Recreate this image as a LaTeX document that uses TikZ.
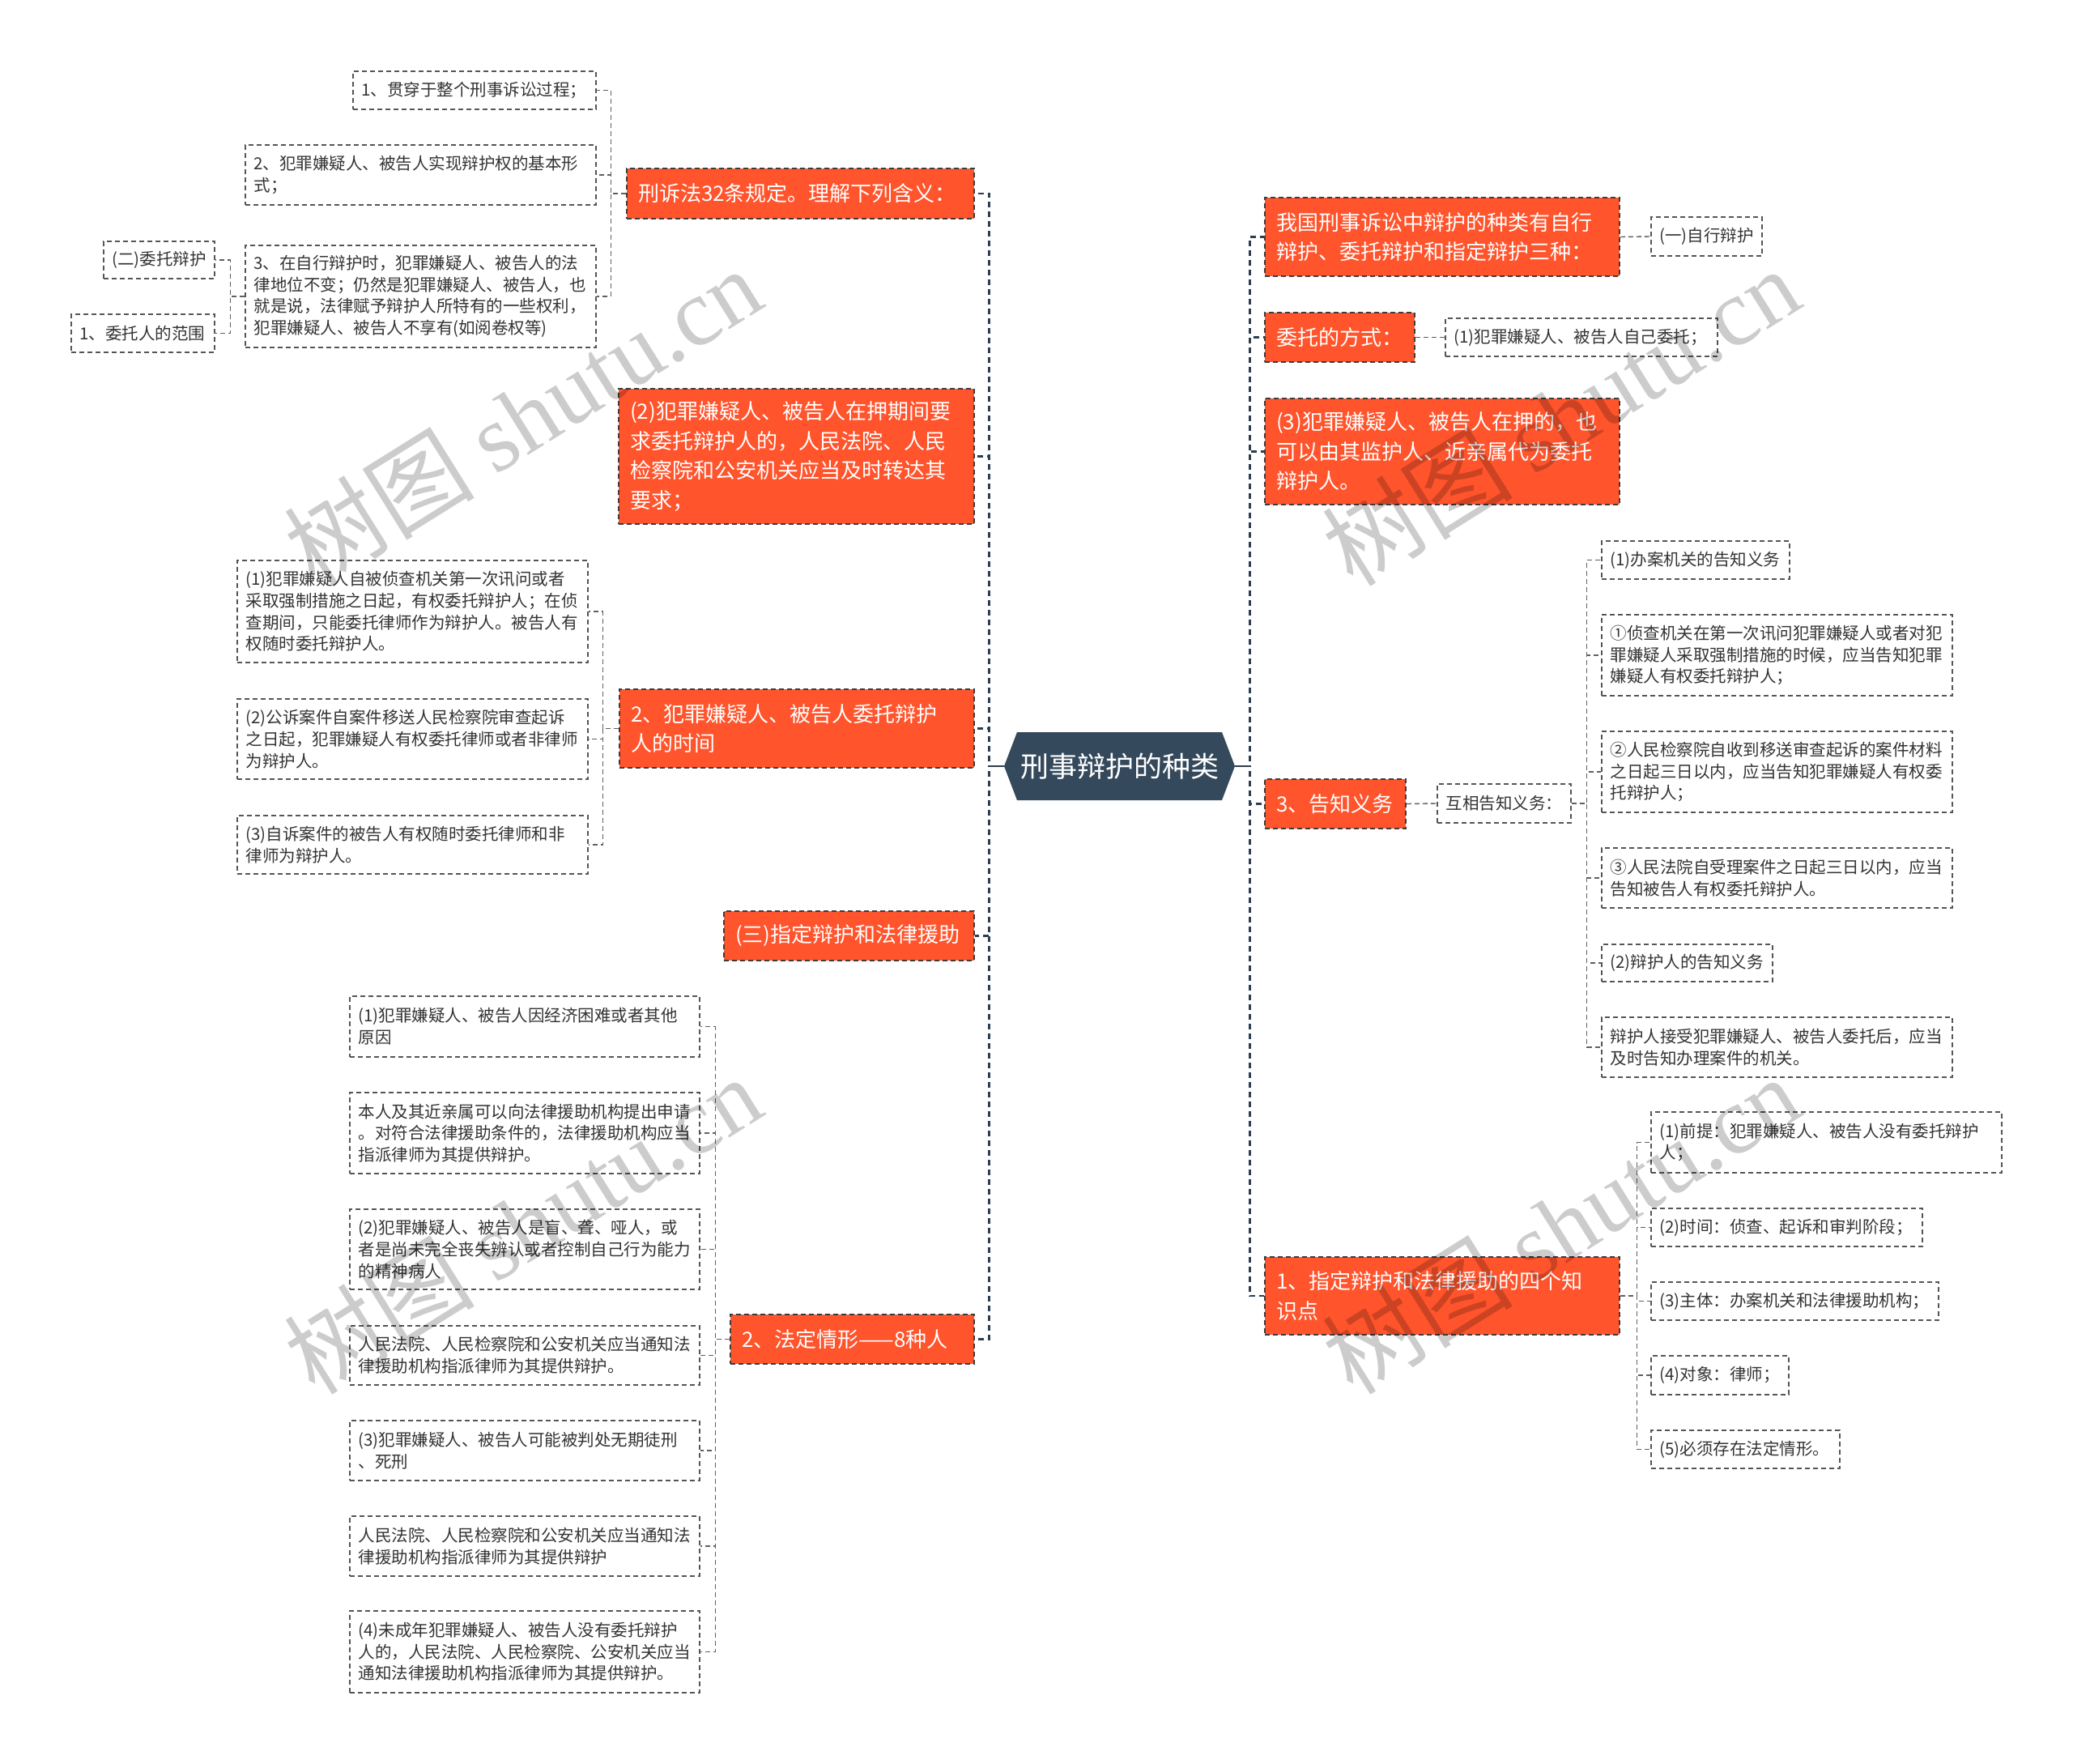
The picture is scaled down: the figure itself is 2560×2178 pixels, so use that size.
\documentclass[tikz,border=0pt]{standalone}
\usepackage{fontspec}
\setmainfont{Noto Sans CJK SC}
\newfontfamily\wmlatin{Liberation Serif}
\definecolor{orangefill}{RGB}{255,84,44}
\definecolor{rootfill}{RGB}{53,73,92}
\definecolor{mainline}{RGB}{44,62,80}
\definecolor{subline}{RGB}{95,95,95}
\definecolor{boxline}{RGB}{85,85,85}
\definecolor{topicline}{RGB}{60,60,60}
\definecolor{txt}{RGB}{51,51,51}
\tikzset{
 leafbox/.style={draw=boxline, line width=1.4pt, dash pattern=on 6pt off 4pt, fill=white, inner ysep=0pt, align=left, text=txt, font=\fontsize{20.5}{26.7}\selectfont},
 topicbox/.style={draw=topicline, line width=1.5pt, dash pattern=on 6pt off 4pt, fill=orangefill, inner ysep=0pt, align=left, text=white, font=\fontsize{26}{36.5}\selectfont},
 rootnode/.style={minimum width=285pt, minimum height=84pt, inner sep=0pt, text=white, font=\fontsize{35}{40}\selectfont},
 mainlink/.style={draw=mainline, line width=2.8pt, dash pattern=on 7pt off 5pt},
 rootstub/.style={draw=mainline, line width=2.8pt},
 sublink/.style={draw=subline, line width=1.4pt, dash pattern=on 6pt off 4pt},
 watermark/.style={text=black, opacity=0.2, rotate=32, font=\fontsize{118}{118}\selectfont, inner sep=0pt},
}
\newcommand\mkbox[8]{%
 \pgfmathsetmacro\bw{#6-#4}%
 \pgfmathsetmacro\bh{#7-#5}%
 \pgfmathsetmacro\tw{#6-#4-2*#3}%
 \pgfmathsetmacro\cx{(#4+#6)/2}%
 \pgfmathsetmacro\cy{(#5+#7)/2}%
 \node[#2, inner xsep=#3pt, minimum width=\bw pt, minimum height=\bh pt, text width=\tw pt] (#1) at (\cx,\cy) {#8};}
\newcommand\leaf[6]{\mkbox{#1}{leafbox}{10.5}{#2}{#3}{#4}{#5}{#6}}
\newcommand\topic[6]{\mkbox{#1}{topicbox}{14}{#2}{#3}{#4}{#5}{#6}}
\begin{document}
\begin{tikzpicture}[x=1pt,y=-1pt]
\fill[white] (0,0) rectangle (2560,2178);
\useasboundingbox (0,0) rectangle (2560,2178);

% root
\fill[rootfill] (1240,946) -- (1256,904) -- (1509,904) -- (1525,946) -- (1509,988) -- (1256,988) -- cycle;
\node[rootnode] (root) at (1382.5,946) {刑事辩护的种类};

% left topics
\topic{P1}{774}{208}{1203}{270}{刑诉法32条规定。理解下列含义：}
\topic{P2}{764}{480}{1203}{647}{(2)犯罪嫌疑人、被告人在押期间要\\求委托辩护人的，人民法院、人民\\检察院和公安机关应当及时转达其\\要求；}
\topic{P3}{765}{851}{1203}{948}{2、犯罪嫌疑人、被告人委托辩护\\人的时间}
\topic{P4}{894}{1125}{1203}{1186}{(三)指定辩护和法律援助}
\topic{P5}{902}{1623}{1203}{1684}{2、法定情形——8种人}

% P1 children
\leaf{B1}{436}{88}{736}{135}{1、贯穿于整个刑事诉讼过程；}
\leaf{B2}{303}{179}{736}{253}{2、犯罪嫌疑人、被告人实现辩护权的基本形\\式；}
\leaf{B3}{303}{303}{736}{429}{3、在自行辩护时，犯罪嫌疑人、被告人的法\\律地位不变；仍然是犯罪嫌疑人、被告人，也\\就是说，法律赋予辩护人所特有的一些权利，\\犯罪嫌疑人、被告人不享有(如阅卷权等)}
\leaf{C1}{128}{298}{265}{344}{(二)委托辩护}
\leaf{C2}{88}{388}{265}{435}{1、委托人的范围}

% P3 children
\leaf{D1}{293}{692}{726}{818}{(1)犯罪嫌疑人自被侦查机关第一次讯问或者\\采取强制措施之日起，有权委托辩护人；在侦\\查期间，只能委托律师作为辩护人。被告人有\\权随时委托辩护人。}
\leaf{D2}{293}{863}{726}{962}{(2)公诉案件自案件移送人民检察院审查起诉\\之日起，犯罪嫌疑人有权委托律师或者非律师\\为辩护人。}
\leaf{D3}{293}{1007}{726}{1079}{(3)自诉案件的被告人有权随时委托律师和非\\律师为辩护人。}

% P5 children
\leaf{E1}{432}{1230}{864}{1305}{(1)犯罪嫌疑人、被告人因经济困难或者其他\\原因}
\leaf{E2}{432}{1349}{864}{1449}{本人及其近亲属可以向法律援助机构提出申请\\。对符合法律援助条件的，法律援助机构应当\\指派律师为其提供辩护。}
\leaf{E3}{432}{1493}{864}{1592}{(2)犯罪嫌疑人、被告人是盲、聋、哑人，或\\者是尚未完全丧失辨认或者控制自己行为能力\\的精神病人}
\leaf{E4}{432}{1637}{864}{1710}{人民法院、人民检察院和公安机关应当通知法\\律援助机构指派律师为其提供辩护。}
\leaf{E5}{432}{1754}{864}{1828}{(3)犯罪嫌疑人、被告人可能被判处无期徒刑\\、死刑}
\leaf{E6}{432}{1872}{864}{1946}{人民法院、人民检察院和公安机关应当通知法\\律援助机构指派律师为其提供辩护}
\leaf{E7}{432}{1989}{864}{2090}{(4)未成年犯罪嫌疑人、被告人没有委托辩护\\人的，人民法院、人民检察院、公安机关应当\\通知法律援助机构指派律师为其提供辩护。}

% right topics
\topic{R1}{1562}{244}{2000}{341}{我国刑事诉讼中辩护的种类有自行\\辩护、委托辩护和指定辩护三种：}
\topic{R2}{1562}{386}{1747}{447}{委托的方式：}
\topic{R3}{1562}{492}{2000}{623}{(3)犯罪嫌疑人、被告人在押的，也\\可以由其监护人、近亲属代为委托\\辩护人。}
\topic{R4}{1562}{962}{1736}{1023}{3、告知义务}
\topic{R5}{1562}{1552}{2000}{1648}{1、指定辩护和法律援助的四个知\\识点}

\leaf{R1c}{2039}{268}{2176}{316}{(一)自行辩护}
\leaf{R2c}{1785}{393}{2121}{440}{(1)犯罪嫌疑人、被告人自己委托；}
\leaf{F}{1775}{968}{1940}{1016}{互相告知义务：}

\leaf{G1}{1978}{668}{2210}{715}{(1)办案机关的告知义务}
\leaf{G2}{1978}{759}{2411}{859}{①侦查机关在第一次讯问犯罪嫌疑人或者对犯\\罪嫌疑人采取强制措施的时候，应当告知犯罪\\嫌疑人有权委托辩护人；}
\leaf{G3}{1978}{903}{2411}{1003}{②人民检察院自收到移送审查起诉的案件材料\\之日起三日以内，应当告知犯罪嫌疑人有权委\\托辩护人；}
\leaf{G4}{1978}{1047}{2411}{1121}{③人民法院自受理案件之日起三日以内，应当\\告知被告人有权委托辩护人。}
\leaf{G5}{1978}{1166}{2189}{1212}{(2)辩护人的告知义务}
\leaf{G6}{1978}{1256}{2411}{1330}{辩护人接受犯罪嫌疑人、被告人委托后，应当\\及时告知办理案件的机关。}

\leaf{H1}{2039}{1373}{2472}{1448}{(1)前提：犯罪嫌疑人、被告人没有委托辩护\\人；}
\leaf{H2}{2039}{1492}{2374}{1539}{(2)时间：侦查、起诉和审判阶段；}
\leaf{H3}{2039}{1583}{2394}{1630}{(3)主体：办案机关和法律援助机构；}
\leaf{H4}{2039}{1674}{2209}{1722}{(4)对象：律师；}
\leaf{H5}{2039}{1766}{2272}{1813}{(5)必须存在法定情形。}

% main connectors
\foreach \t in {P1,P2,P3,P4,P5} \draw[mainlink] (root.west) -- ++(-18,0) |- (\t.east);
\foreach \t in {R1,R2,R3,R4,R5} \draw[mainlink] (root.east) -- ++(18,0) |- (\t.west);
\draw[rootstub] (root.west) -- ++(-18,0);
\draw[rootstub] (root.east) -- ++(18,0);

% sub connectors
\foreach \t in {B1,B2,B3} \draw[sublink] (P1.west) -- ++(-19,0) |- (\t.east);
\foreach \t in {C1,C2} \draw[sublink] (B3.west) -- ++(-18,0) |- (\t.east);
\foreach \t in {D1,D2,D3} \draw[sublink] (P3.west) -- ++(-20,0) |- (\t.east);
\foreach \t in {E1,E2,E3,E4,E5,E6,E7} \draw[sublink] (P5.west) -- ++(-18,0) |- (\t.east);
\draw[sublink] (R1.east) -- (R1c.west);
\draw[sublink] (R2.east) -- (R2c.west);
\draw[sublink] (R4.east) -- (F.west);
\foreach \t in {G1,G2,G3,G4,G5,G6} \draw[sublink] (F.east) -- ++(19,0) |- (\t.west);
\foreach \t in {H1,H2,H3,H4,H5} \draw[sublink] (R5.east) -- ++(21,0) |- (\t.west);

% watermarks
\node[watermark] (wm1) at (645,514) {树图 {\wmlatin shutu.cn}};
\node[watermark] (wm2) at (1927,514) {树图 {\wmlatin shutu.cn}};
\node[watermark] (wm3) at (645,1512) {树图 {\wmlatin shutu.cn}};
\node[watermark] (wm4) at (1927,1512) {树图 {\wmlatin shutu.cn}};
\end{tikzpicture}
\end{document}
